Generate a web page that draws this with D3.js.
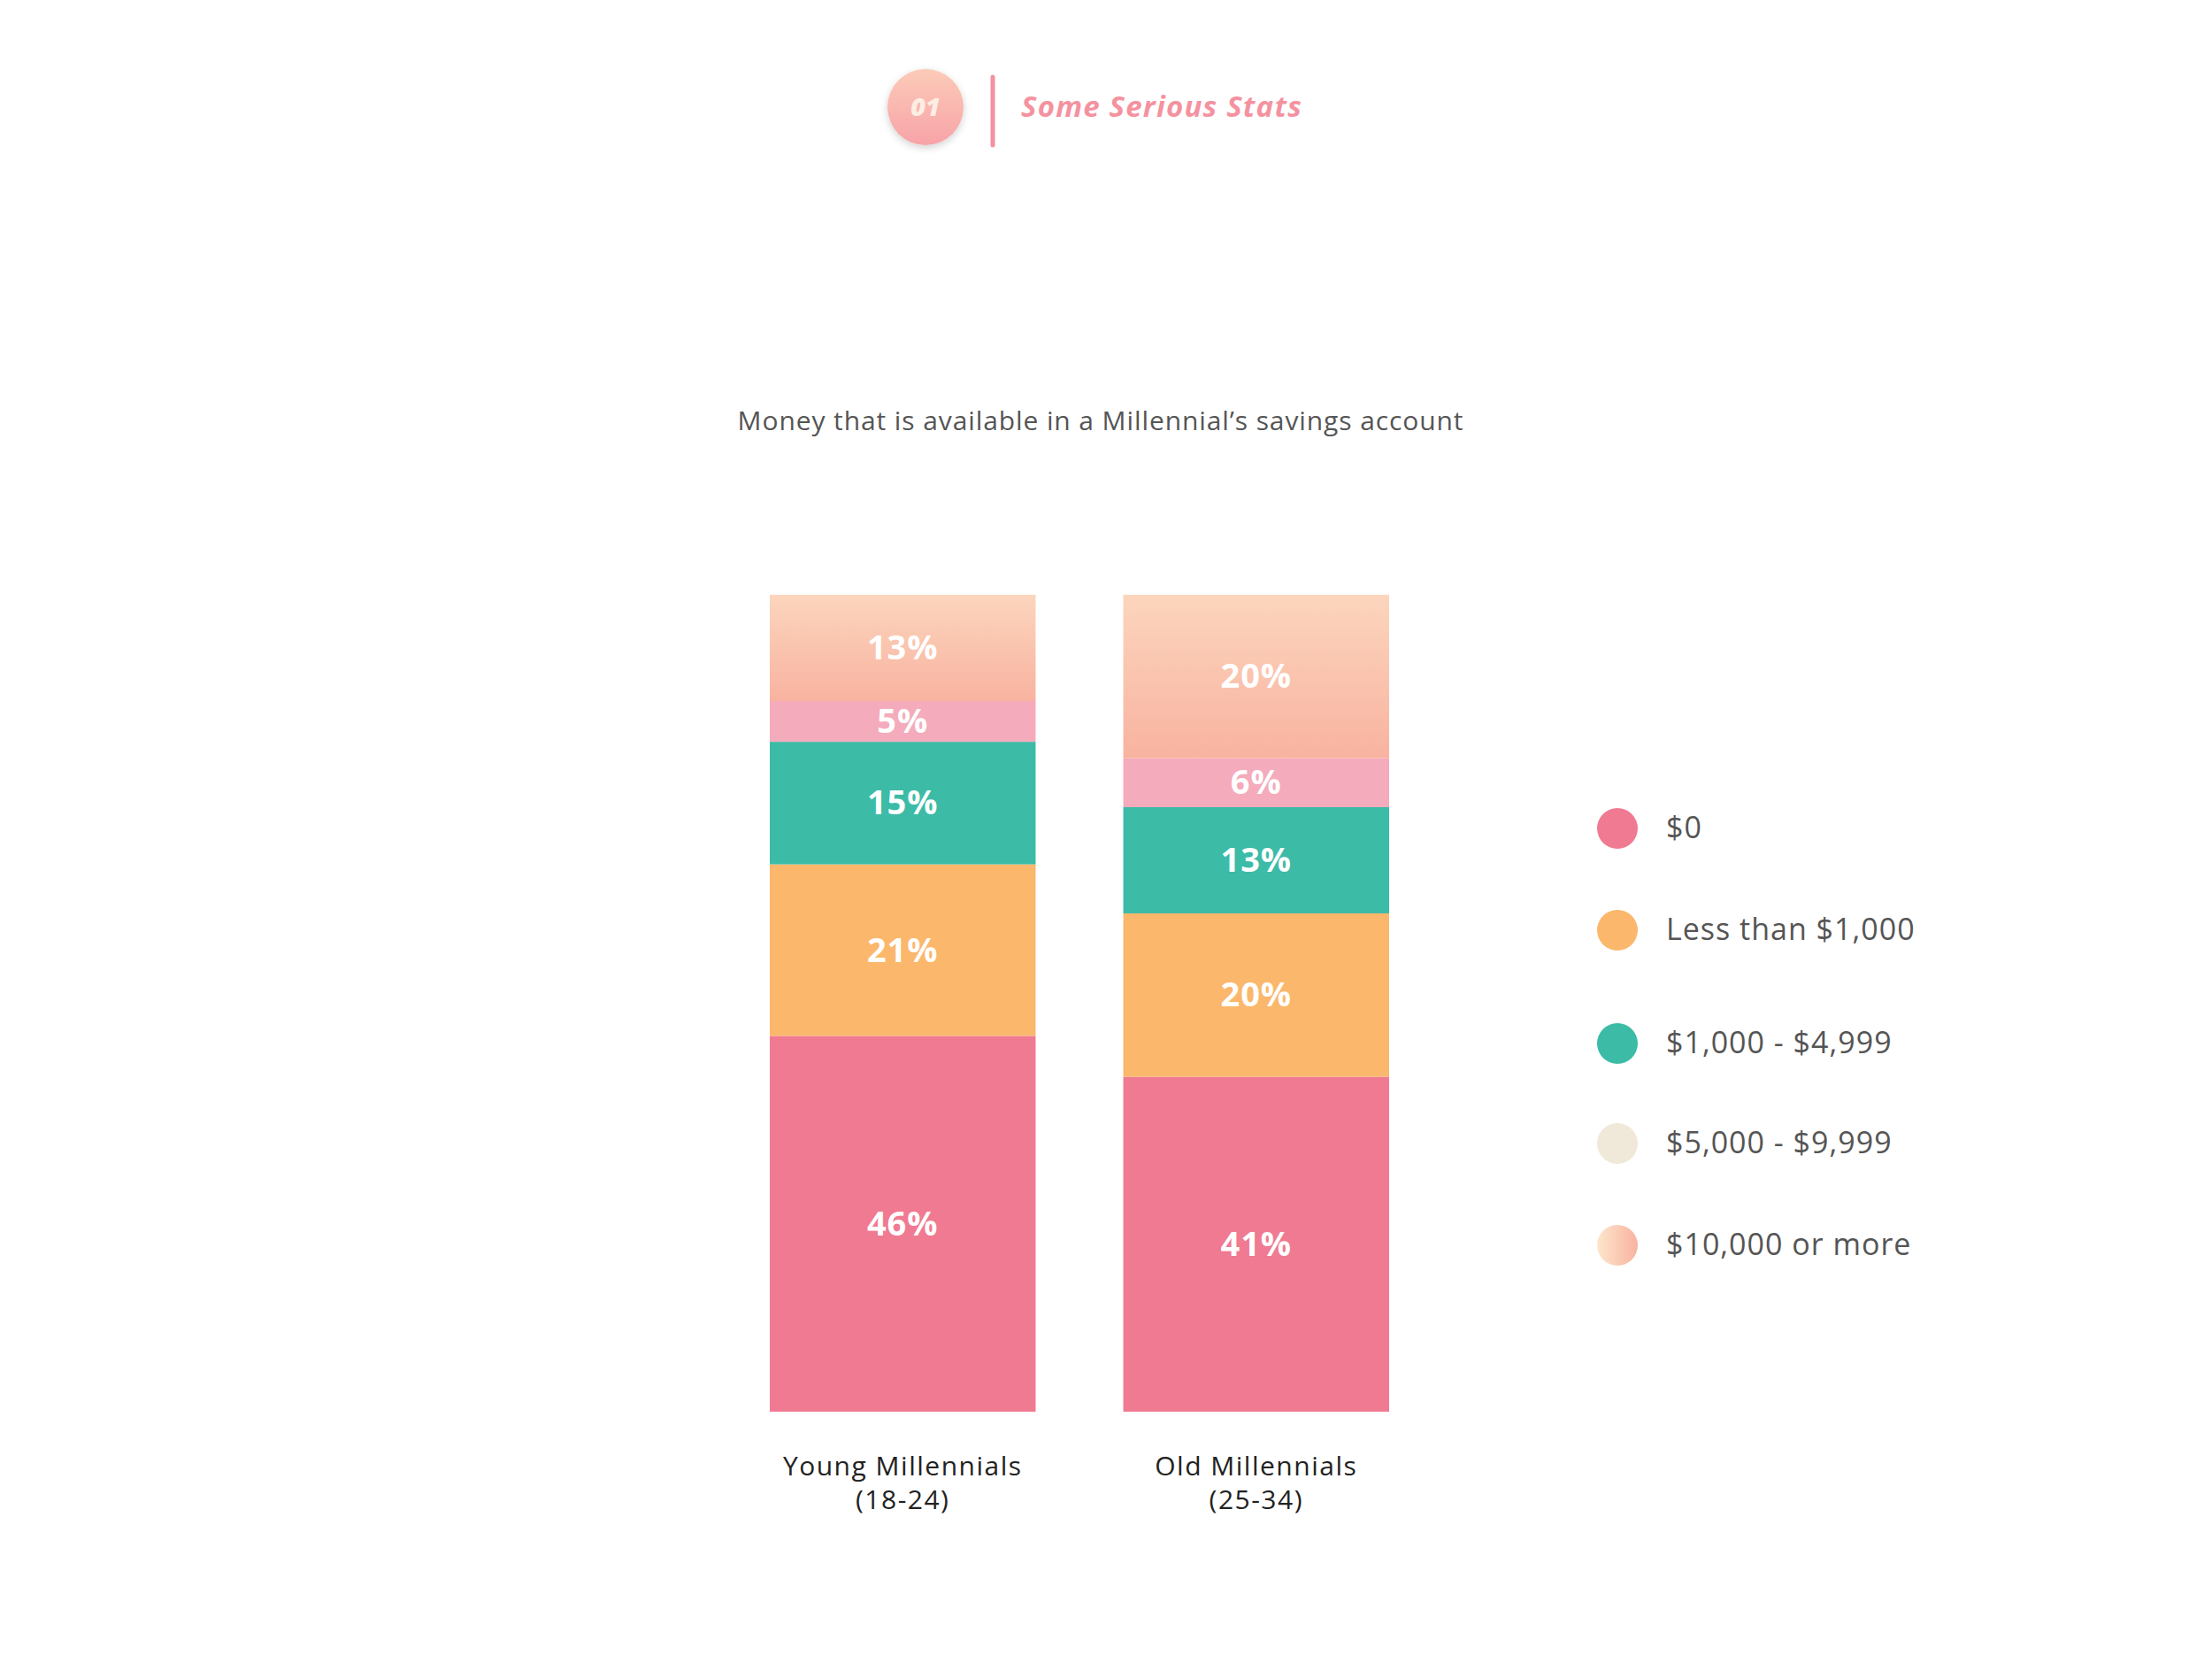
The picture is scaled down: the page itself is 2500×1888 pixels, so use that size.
<!DOCTYPE html>
<html><head><meta charset="utf-8">
<script src="https://cdn.jsdelivr.net/npm/d3@7"></script>
<style>body{margin:0;background:#fff}</style></head>
<body><svg id="c" width="2500" height="1888"></svg>
<script>
const categories = ["Young Millennials|(18-24)", "Old Millennials|(25-34)"];
const seriesNames = ["$0", "Less than $1,000", "$1,000 - $4,999", "$5,000 - $9,999", "$10,000 or more"];
const zeroDollars = [46, 41];
const lessThan1k = [21, 20];
const from1kTo5k = [15, 13];
const from5kTo10k = [5, 6];
const over10k = [13, 20];
const legendColors = ["#f07a91", "#fbb76b", "#3cbba7", "#f0e8d8", "url(#legG)"];
const segColors = ["#f07a91", "#fbb76b", "#3cbba7", "#f4abbb", "url(#topG)"];

const svg = d3.select("#c");
const font = "'Open Sans', sans-serif";
const defs = svg.append("defs");
const tg = defs.append("linearGradient").attr("id","topG").attr("x1",0).attr("y1",0).attr("x2",0).attr("y2",1);
tg.append("stop").attr("offset","0%").attr("stop-color","#fcd5bd");
tg.append("stop").attr("offset","100%").attr("stop-color","#f8b3a0");
const lg = defs.append("linearGradient").attr("id","legG");
lg.append("stop").attr("offset","0%").attr("stop-color","#fde6cc");
lg.append("stop").attr("offset","100%").attr("stop-color","#f8b3a0");
const cg = defs.append("linearGradient").attr("id","circG").attr("x1",0).attr("y1",0).attr("x2",0).attr("y2",1);
cg.append("stop").attr("offset","0%").attr("stop-color","#fccbb8");
cg.append("stop").attr("offset","100%").attr("stop-color","#f7a3a8");
const f = defs.append("filter").attr("id","sh").attr("x","-50%").attr("y","-50%").attr("width","200%").attr("height","200%");
f.append("feDropShadow").attr("dx",0).attr("dy",3).attr("stdDeviation",4).attr("flood-color","#000").attr("flood-opacity",0.18);

// header
svg.append("circle").attr("cx",1046).attr("cy",121).attr("r",43).attr("fill","url(#circG)").attr("filter","url(#sh)");
svg.append("text").attr("x",1046).attr("y",131).attr("text-anchor","middle").attr("font-family",font)
  .attr("font-size",29).attr("font-weight",800).attr("font-style","italic").attr("fill","#fdeee3").text("01");
svg.append("line").attr("x1",1122).attr("x2",1122).attr("y1",87).attr("y2",164).attr("stroke","#f4919f").attr("stroke-width",5).attr("stroke-linecap","round");
svg.append("text").attr("x",1154).attr("y",132).attr("font-family",font).attr("font-size",33).attr("font-weight",700)
  .attr("font-style","italic").attr("letter-spacing",1.2).attr("fill","#f4929f").text("Some Serious Stats");

svg.append("text").attr("x",1244).attr("y",486).attr("text-anchor","middle").attr("font-family",font)
  .attr("font-size",30).attr("letter-spacing",0.9).attr("fill","#555").text("Money that is available in a Millennial’s savings account");

const series = [zeroDollars, lessThan1k, from1kTo5k, from5kTo10k, over10k];
const data = categories.map((c,i)=>{const o={cat:c}; seriesNames.forEach((s,j)=>o[s]=series[j][i]); return o;});
const stacked = d3.stack().keys(seriesNames)(data);

const x = d3.scaleBand().domain(categories).range([870,1570]).paddingInner(0.248).paddingOuter(0);
const y = d3.scaleLinear().domain([0,100]).range([1595,672]);

stacked.forEach((layer,j)=>{
  const g = svg.append("g");
  g.selectAll("rect").data(layer).join("rect")
    .attr("x",d=>x(d.data.cat)).attr("width",x.bandwidth())
    .attr("y",d=>y(d[1])).attr("height",d=>y(d[0])-y(d[1])).attr("fill",segColors[j]);
  g.selectAll("text").data(layer).join("text")
    .attr("x",d=>x(d.data.cat)+x.bandwidth()/2).attr("y",d=>(y(d[0])+y(d[1]))/2+13)
    .attr("text-anchor","middle").attr("font-family",font).attr("font-weight",700).attr("font-size",38)
    .attr("letter-spacing",1).attr("fill","#fff").text(d=>(d[1]-d[0])+"%");
});

categories.forEach(c=>{
  const parts=c.split("|");
  const t=svg.append("text").attr("text-anchor","middle").attr("font-family",font).attr("font-size",30)
    .attr("letter-spacing",1.5).attr("fill","#222");
  parts.forEach((p,i)=>t.append("tspan").attr("x",x(c)+x.bandwidth()/2).attr("y",1667+i*38).text(p));
});

const legY = [936,1051,1179,1292,1407];
seriesNames.forEach((s,i)=>{
  svg.append("circle").attr("cx",1828).attr("cy",legY[i]).attr("r",23).attr("fill",legendColors[i]);
  svg.append("text").attr("x",1883).attr("y",legY[i]+11).attr("font-family",font).attr("font-size",34)
    .attr("letter-spacing",1).attr("fill","#555").text(s);
});
</script></body></html>
